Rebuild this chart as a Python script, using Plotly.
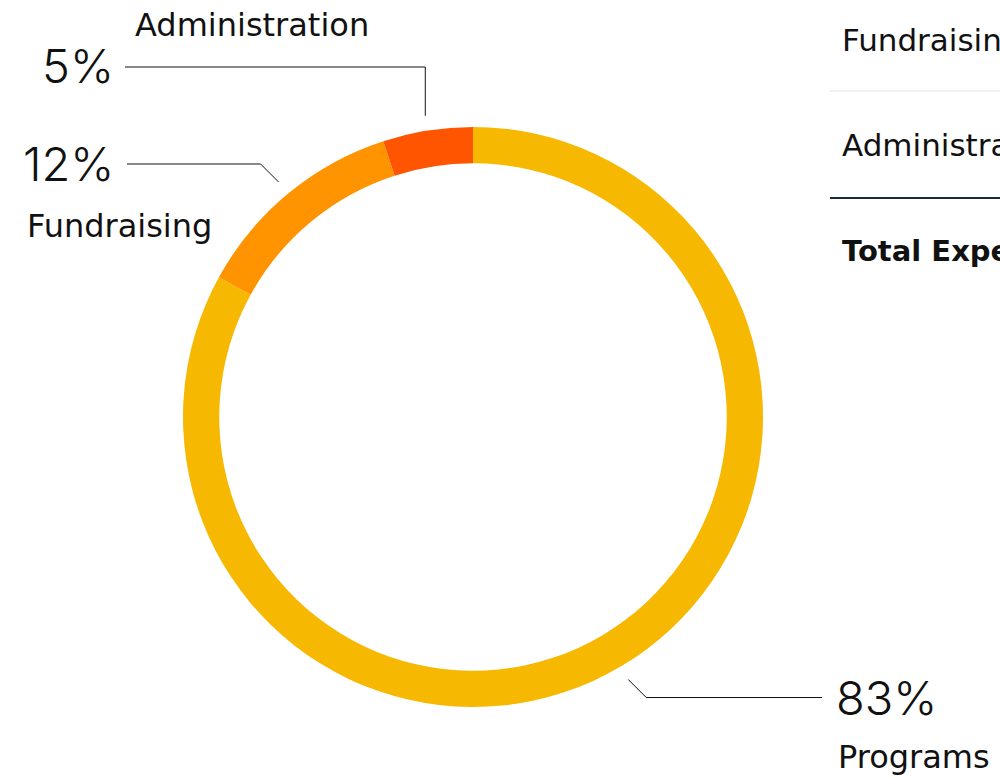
import math
import plotly.graph_objects as go

# ---- data ----
categories = ["Programs", "Fundraising", "Administration"]
percents = [83, 12, 5]
colors = ["#F6B800", "#FF9300", "#FF5500"]
table_rows = ["Fundraising", "Administration"]
table_total = "Total Expenses"

W, H = 1000, 779
NUM_FONT = "Inter, Poppins, 'Open Sans', sans-serif"
LBL_FONT = "'DejaVu Sans', Poppins, sans-serif"

# donut geometry (pixels)
CX, CY, R = 473, 417, 290
HOLE = 0.875


def px(x):
    return x / W


def py(y):
    return 1 - y / H


fig = go.Figure()
fig.add_trace(go.Pie(
    labels=categories,
    values=percents,
    marker=dict(colors=colors, line=dict(width=0)),
    hole=HOLE,
    sort=False,
    direction="clockwise",
    rotation=0,
    textinfo="none",
    hoverinfo="label+percent",
    showlegend=False,
    domain=dict(x=[px(CX - R), px(CX + R)], y=[py(CY + R), py(CY - R)]),
))

# slice mid-angles -> leader line start points
total = sum(percents)
mids = []
acc = 0
for v in percents:
    mids.append((acc + v / 2) / total * 2 * math.pi)
    acc += v


def on_ring(theta, r):
    return CX + r * math.sin(theta), CY - r * math.cos(theta)


shapes = []
line_style = dict(color="#111111", width=1)


def seg(x0, y0, x1, y1, style=line_style):
    shapes.append(dict(type="line", xref="paper", yref="paper",
                       x0=px(x0), y0=py(y0), x1=px(x1), y1=py(y1), line=style))


LR = 305
# Programs
sx, sy = on_ring(mids[0], LR)
seg(sx, sy, sx + 18, sy + 18)
seg(sx + 18, sy + 18, 822, sy + 18)
prog_y = sy + 18
# Fundraising
sx, sy = on_ring(mids[1], LR)
seg(sx, sy, sx - 18, sy - 18)
seg(sx - 18, sy - 18, 127, sy - 18)
fund_y = sy - 18
# Administration
sx, sy = on_ring(mids[2], LR)
seg(sx, sy, sx, 67)
seg(sx, 67, 125, 67)
adm_y = 67

# table rules
seg(830, 91, 1000, 91, dict(color="#E2E2E2", width=1))
seg(830, 198, 1000, 198, dict(color="#1B2937", width=2))

annotations = []


def text(t, x, y, size, xanchor, family, weight="normal", color="#111111"):
    annotations.append(dict(text=t, x=px(x), y=py(y), xref="paper", yref="paper",
                            xanchor=xanchor, yanchor="middle", showarrow=False,
                            font=dict(family=family, size=size, color=color, weight=weight)))


pct_labels = [f"{p}%" for p in percents]
text(pct_labels[2], 116, adm_y - 1, 47, "right", NUM_FONT, weight=300)
text(pct_labels[1], 116, fund_y, 47, "right", NUM_FONT, weight=300)
text(pct_labels[0], 834, prog_y, 47, "left", NUM_FONT, weight=300)
text(categories[2], 133, 25, 32, "left", LBL_FONT)
text(categories[1], 25, 226, 32, "left", LBL_FONT)
text(categories[0], 836, 757, 32, "left", LBL_FONT)

text(table_rows[0], 840, 40, 31, "left", LBL_FONT)
text(table_rows[1], 840, 145, 31, "left", LBL_FONT)
text(table_total, 840, 251, 29, "left", LBL_FONT, weight="bold")

fig.update_layout(
    width=W, height=H,
    margin=dict(l=0, r=0, t=0, b=0),
    paper_bgcolor="white",
    plot_bgcolor="white",
    shapes=shapes,
    annotations=annotations,
)

fig.write_html("out.html")
